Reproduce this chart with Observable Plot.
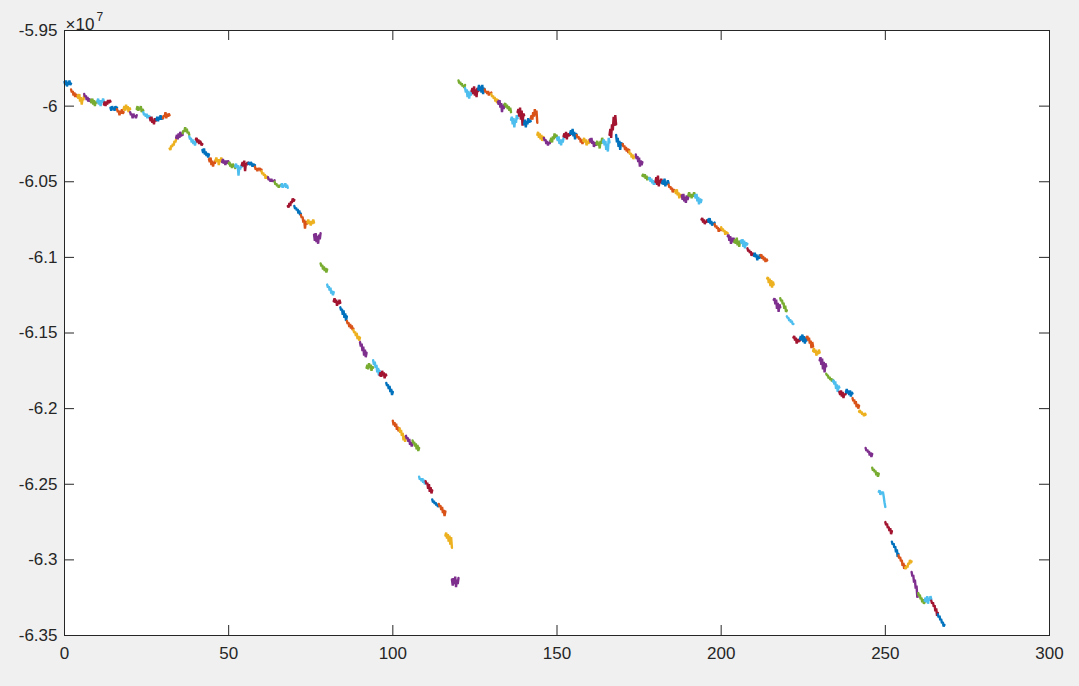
<!DOCTYPE html>
<html>
<head>
<meta charset="utf-8">
<script src="https://cdn.jsdelivr.net/npm/d3@7"></script>
<script src="https://cdn.jsdelivr.net/npm/@observablehq/plot@0.6"></script>
<style>
  html, body { margin: 0; padding: 0; background: #f0f0f0; }
</style>
</head>
<body>
<div id="chart"></div>
<script>
// Values in units of 1e7. Each inner array is one short trace (2 x-units long, 9 samples).
const branch1 = [
  [-5.984,-5.986,-5.983,-5.987,-5.984,-5.986,-5.983,-5.986,-5.985],
  [-5.989,-5.991,-5.990,-5.993,-5.991,-5.994,-5.992,-5.993,-5.994],
  [-5.993,-5.995,-5.992,-5.997,-5.994,-5.999,-5.995,-5.996,-5.993],
  [-5.992,-5.994,-5.993,-5.996,-5.994,-5.997,-5.995,-5.996,-5.997],
  [-5.996,-5.998,-5.995,-5.999,-5.996,-6.000,-5.997,-5.998,-5.997],
  [-5.997,-5.995,-5.999,-5.996,-6.000,-5.996,-5.998,-5.995,-5.997],
  [-5.999,-5.997,-6.000,-5.997,-5.999,-5.996,-5.998,-5.996,-5.997],
  [-6.001,-6.003,-6.000,-6.002,-6.001,-6.003,-6.000,-6.002,-6.001],
  [-6.002,-6.004,-6.003,-6.006,-6.003,-6.005,-6.002,-6.005,-6.004],
  [-6.002,-6.000,-6.003,-5.999,-6.002,-6.000,-6.004,-6.001,-6.002],
  [-6.004,-6.006,-6.005,-6.008,-6.005,-6.007,-6.006,-6.008,-6.006],
  [-6.002,-6.000,-6.003,-6.001,-6.002,-6.000,-6.004,-6.002,-6.003],
  [-6.004,-6.006,-6.005,-6.007,-6.005,-6.008,-6.006,-6.007,-6.007],
  [-6.008,-6.010,-6.007,-6.011,-6.009,-6.012,-6.008,-6.010,-6.009],
  [-6.009,-6.007,-6.010,-6.007,-6.009,-6.006,-6.009,-6.007,-6.008],
  [-6.008,-6.006,-6.007,-6.004,-6.008,-6.005,-6.007,-6.005,-6.006],
  [-6.028,-6.029,-6.026,-6.027,-6.025,-6.026,-6.023,-6.024,-6.022],
  [-6.021,-6.019,-6.022,-6.018,-6.021,-6.017,-6.020,-6.018,-6.019],
  [-6.018,-6.016,-6.017,-6.014,-6.017,-6.015,-6.018,-6.017,-6.019],
  [-6.020,-6.022,-6.021,-6.024,-6.022,-6.025,-6.023,-6.026,-6.023],
  [-6.022,-6.021,-6.024,-6.022,-6.025,-6.023,-6.024,-6.026,-6.025],
  [-6.029,-6.031,-6.028,-6.032,-6.030,-6.033,-6.031,-6.034,-6.032],
  [-6.035,-6.037,-6.034,-6.039,-6.036,-6.040,-6.037,-6.038,-6.036],
  [-6.036,-6.034,-6.037,-6.035,-6.039,-6.035,-6.037,-6.034,-6.036],
  [-6.037,-6.035,-6.038,-6.036,-6.039,-6.036,-6.038,-6.036,-6.037],
  [-6.038,-6.037,-6.040,-6.038,-6.041,-6.038,-6.040,-6.039,-6.041],
  [-6.040,-6.038,-6.041,-6.039,-6.046,-6.040,-6.042,-6.039,-6.040],
  [-6.039,-6.037,-6.040,-6.036,-6.043,-6.038,-6.039,-6.037,-6.038],
  [-6.038,-6.037,-6.039,-6.037,-6.038,-6.040,-6.038,-6.040,-6.039],
  [-6.040,-6.042,-6.041,-6.043,-6.041,-6.042,-6.041,-6.043,-6.042],
  [-6.043,-6.045,-6.044,-6.046,-6.045,-6.048,-6.046,-6.047,-6.048],
  [-6.047,-6.049,-6.048,-6.050,-6.048,-6.050,-6.049,-6.050,-6.049],
  [-6.050,-6.052,-6.051,-6.053,-6.052,-6.054,-6.052,-6.053,-6.052],
  [-6.053,-6.051,-6.054,-6.052,-6.053,-6.051,-6.054,-6.052,-6.054],
  [-6.066,-6.067,-6.064,-6.066,-6.063,-6.064,-6.061,-6.063,-6.062],
  [-6.066,-6.068,-6.067,-6.069,-6.068,-6.071,-6.069,-6.072,-6.071],
  [-6.072,-6.074,-6.073,-6.077,-6.075,-6.081,-6.076,-6.078,-6.077],
  [-6.077,-6.075,-6.078,-6.076,-6.079,-6.076,-6.078,-6.075,-6.077],
  [-6.085,-6.089,-6.084,-6.090,-6.086,-6.091,-6.085,-6.088,-6.084],
  [-6.104,-6.106,-6.105,-6.108,-6.106,-6.109,-6.107,-6.110,-6.108],
  [-6.118,-6.120,-6.119,-6.122,-6.120,-6.124,-6.122,-6.125,-6.123],
  [-6.129,-6.127,-6.130,-6.128,-6.132,-6.129,-6.131,-6.128,-6.130],
  [-6.133,-6.135,-6.134,-6.138,-6.135,-6.140,-6.137,-6.142,-6.139],
  [-6.142,-6.144,-6.143,-6.146,-6.144,-6.147,-6.145,-6.148,-6.147],
  [-6.148,-6.150,-6.149,-6.152,-6.150,-6.154,-6.152,-6.155,-6.153],
  [-6.156,-6.159,-6.157,-6.162,-6.159,-6.165,-6.161,-6.166,-6.163],
  [-6.173,-6.171,-6.174,-6.170,-6.173,-6.171,-6.175,-6.172,-6.173],
  [-6.168,-6.171,-6.169,-6.173,-6.171,-6.176,-6.173,-6.178,-6.175],
  [-6.178,-6.176,-6.179,-6.175,-6.178,-6.176,-6.180,-6.177,-6.178],
  [-6.183,-6.185,-6.184,-6.187,-6.185,-6.189,-6.187,-6.191,-6.189],
  [-6.208,-6.211,-6.209,-6.212,-6.210,-6.214,-6.212,-6.215,-6.213],
  [-6.213,-6.216,-6.214,-6.218,-6.216,-6.221,-6.218,-6.222,-6.219],
  [-6.218,-6.220,-6.219,-6.222,-6.220,-6.224,-6.222,-6.225,-6.223],
  [-6.221,-6.223,-6.222,-6.225,-6.223,-6.227,-6.224,-6.228,-6.226],
  [-6.245,-6.247,-6.246,-6.248,-6.246,-6.249,-6.247,-6.250,-6.249],
  [-6.248,-6.250,-6.249,-6.253,-6.250,-6.255,-6.252,-6.256,-6.254],
  [-6.260,-6.262,-6.261,-6.263,-6.262,-6.264,-6.263,-6.265,-6.264],
  [-6.263,-6.265,-6.264,-6.267,-6.265,-6.269,-6.267,-6.271,-6.268],
  [-6.284,-6.282,-6.286,-6.283,-6.288,-6.284,-6.290,-6.285,-6.292],
  [-6.313,-6.317,-6.312,-6.316,-6.311,-6.318,-6.313,-6.316,-6.312]
];
const branch2 = [
  [-5.983,-5.985,-5.984,-5.986,-5.985,-5.987,-5.986,-5.988,-5.986],
  [-5.988,-5.991,-5.989,-5.994,-5.990,-5.995,-5.991,-5.993,-5.990],
  [-5.990,-5.988,-5.992,-5.987,-5.993,-5.989,-5.994,-5.988,-5.990],
  [-5.989,-5.986,-5.990,-5.987,-5.991,-5.986,-5.992,-5.988,-5.989],
  [-5.989,-5.991,-5.990,-5.992,-5.990,-5.993,-5.991,-5.992,-5.991],
  [-5.992,-5.994,-5.993,-5.995,-5.994,-5.997,-5.995,-5.998,-5.996],
  [-5.997,-5.999,-5.996,-6.001,-5.998,-6.004,-5.999,-6.002,-5.999],
  [-5.999,-5.998,-6.001,-5.999,-6.002,-6.000,-6.003,-6.001,-6.004],
  [-6.009,-6.007,-6.012,-6.008,-6.014,-6.009,-6.011,-6.006,-6.008],
  [-6.004,-6.002,-6.007,-6.001,-6.009,-6.003,-6.013,-6.005,-6.006],
  [-6.012,-6.009,-6.014,-6.010,-6.012,-6.008,-6.011,-6.009,-6.010],
  [-6.008,-6.006,-6.009,-6.004,-6.007,-6.002,-6.006,-6.003,-6.011],
  [-6.019,-6.017,-6.021,-6.018,-6.022,-6.019,-6.023,-6.020,-6.021],
  [-6.021,-6.023,-6.022,-6.025,-6.023,-6.026,-6.024,-6.025,-6.023],
  [-6.023,-6.021,-6.024,-6.020,-6.022,-6.018,-6.021,-6.019,-6.020],
  [-6.021,-6.023,-6.020,-6.025,-6.022,-6.026,-6.022,-6.024,-6.021],
  [-6.020,-6.018,-6.021,-6.017,-6.022,-6.018,-6.020,-6.018,-6.019],
  [-6.018,-6.016,-6.019,-6.015,-6.020,-6.017,-6.022,-6.018,-6.019],
  [-6.019,-6.021,-6.020,-6.022,-6.021,-6.024,-6.022,-6.025,-6.023],
  [-6.023,-6.021,-6.024,-6.022,-6.026,-6.023,-6.025,-6.022,-6.024],
  [-6.022,-6.024,-6.021,-6.025,-6.023,-6.027,-6.024,-6.026,-6.025],
  [-6.025,-6.023,-6.026,-6.024,-6.028,-6.023,-6.025,-6.021,-6.023],
  [-6.024,-6.022,-6.026,-6.023,-6.029,-6.025,-6.030,-6.021,-6.024],
  [-6.019,-6.015,-6.021,-6.012,-6.016,-6.007,-6.013,-6.006,-6.012],
  [-6.019,-6.024,-6.021,-6.027,-6.023,-6.029,-6.024,-6.026,-6.025],
  [-6.025,-6.027,-6.026,-6.029,-6.027,-6.030,-6.028,-6.031,-6.029],
  [-6.030,-6.032,-6.031,-6.034,-6.032,-6.035,-6.033,-6.034,-6.033],
  [-6.032,-6.035,-6.033,-6.037,-6.034,-6.040,-6.036,-6.039,-6.037],
  [-6.046,-6.045,-6.047,-6.045,-6.048,-6.046,-6.049,-6.047,-6.048],
  [-6.048,-6.047,-6.050,-6.048,-6.051,-6.049,-6.052,-6.050,-6.051],
  [-6.050,-6.047,-6.052,-6.046,-6.053,-6.049,-6.051,-6.048,-6.050],
  [-6.051,-6.049,-6.052,-6.048,-6.053,-6.050,-6.052,-6.049,-6.051],
  [-6.052,-6.054,-6.053,-6.055,-6.054,-6.057,-6.055,-6.056,-6.056],
  [-6.056,-6.058,-6.055,-6.059,-6.057,-6.061,-6.058,-6.060,-6.059],
  [-6.059,-6.062,-6.058,-6.063,-6.060,-6.064,-6.059,-6.062,-6.060],
  [-6.059,-6.057,-6.060,-6.058,-6.061,-6.058,-6.060,-6.057,-6.059],
  [-6.059,-6.061,-6.058,-6.063,-6.060,-6.065,-6.061,-6.064,-6.062],
  [-6.075,-6.074,-6.077,-6.075,-6.078,-6.076,-6.077,-6.075,-6.076],
  [-6.075,-6.077,-6.074,-6.078,-6.076,-6.079,-6.077,-6.078,-6.077],
  [-6.078,-6.080,-6.079,-6.081,-6.080,-6.083,-6.081,-6.082,-6.082],
  [-6.080,-6.082,-6.081,-6.083,-6.082,-6.085,-6.083,-6.084,-6.084],
  [-6.086,-6.085,-6.089,-6.086,-6.091,-6.087,-6.090,-6.087,-6.089],
  [-6.090,-6.088,-6.091,-6.087,-6.092,-6.089,-6.093,-6.089,-6.090],
  [-6.089,-6.091,-6.088,-6.093,-6.089,-6.094,-6.090,-6.092,-6.091],
  [-6.094,-6.096,-6.095,-6.097,-6.096,-6.099,-6.097,-6.098,-6.098],
  [-6.099,-6.097,-6.100,-6.098,-6.102,-6.099,-6.101,-6.098,-6.100],
  [-6.099,-6.098,-6.101,-6.099,-6.102,-6.100,-6.103,-6.101,-6.102],
  [-6.114,-6.113,-6.117,-6.114,-6.119,-6.115,-6.120,-6.116,-6.118],
  [-6.128,-6.127,-6.131,-6.128,-6.134,-6.130,-6.136,-6.131,-6.133],
  [-6.127,-6.129,-6.128,-6.131,-6.130,-6.134,-6.132,-6.136,-6.135],
  [-6.139,-6.140,-6.140,-6.142,-6.141,-6.143,-6.142,-6.144,-6.144],
  [-6.153,-6.152,-6.155,-6.153,-6.157,-6.154,-6.156,-6.154,-6.155],
  [-6.154,-6.152,-6.155,-6.151,-6.156,-6.152,-6.157,-6.153,-6.155],
  [-6.153,-6.152,-6.155,-6.153,-6.157,-6.155,-6.160,-6.156,-6.159],
  [-6.162,-6.160,-6.163,-6.161,-6.165,-6.162,-6.164,-6.161,-6.163],
  [-6.168,-6.166,-6.171,-6.167,-6.174,-6.169,-6.176,-6.170,-6.172],
  [-6.177,-6.178,-6.178,-6.180,-6.179,-6.181,-6.180,-6.182,-6.181],
  [-6.182,-6.181,-6.184,-6.182,-6.187,-6.184,-6.189,-6.185,-6.186],
  [-6.189,-6.191,-6.188,-6.192,-6.189,-6.193,-6.190,-6.191,-6.190],
  [-6.189,-6.187,-6.190,-6.188,-6.191,-6.188,-6.192,-6.189,-6.190],
  [-6.193,-6.195,-6.194,-6.197,-6.195,-6.199,-6.197,-6.200,-6.198],
  [-6.202,-6.201,-6.203,-6.202,-6.204,-6.203,-6.205,-6.203,-6.204],
  [-6.226,-6.228,-6.227,-6.229,-6.228,-6.231,-6.229,-6.232,-6.230],
  [-6.239,-6.241,-6.240,-6.242,-6.241,-6.244,-6.242,-6.245,-6.243],
  [-6.255,-6.254,-6.257,-6.255,-6.256,-6.255,-6.258,-6.262,-6.265],
  [-6.275,-6.277,-6.276,-6.279,-6.278,-6.281,-6.279,-6.283,-6.281],
  [-6.288,-6.290,-6.289,-6.292,-6.291,-6.295,-6.293,-6.298,-6.296],
  [-6.297,-6.299,-6.298,-6.301,-6.300,-6.304,-6.302,-6.306,-6.304],
  [-6.305,-6.306,-6.304,-6.305,-6.302,-6.303,-6.300,-6.302,-6.301],
  [-6.308,-6.311,-6.310,-6.315,-6.313,-6.319,-6.317,-6.325,-6.322],
  [-6.322,-6.324,-6.323,-6.326,-6.325,-6.328,-6.326,-6.329,-6.328],
  [-6.327,-6.325,-6.328,-6.324,-6.329,-6.325,-6.327,-6.324,-6.326],
  [-6.327,-6.329,-6.328,-6.331,-6.330,-6.334,-6.332,-6.337,-6.335],
  [-6.336,-6.338,-6.337,-6.340,-6.339,-6.342,-6.341,-6.344,-6.343]
];
const segmentLength = 2;        // x-units covered by each trace
const xTicks = [0, 50, 100, 150, 200, 250, 300];
const yTicks = [-6.35, -6.3, -6.25, -6.2, -6.15, -6.1, -6.05, -6, -5.95];
const colorOrder = ["#0072BD", "#D95319", "#EDB120", "#7E2F8E", "#77AC30", "#4DBEEE", "#A2142F"];

const segments = branch1.concat(branch2);
const points = [];
segments.forEach((ys, i) => {
  const n = ys.length - 1;
  ys.forEach((y, k) => points.push({seg: i, cls: i % colorOrder.length, x: i * segmentLength + (k / n) * segmentLength, y}));
});

const ink = "#262626";
const font = "'Liberation Sans', Arial, Helvetica, sans-serif";

const chart = Plot.plot({
  width: 1079,
  height: 686,
  marginLeft: 64,
  marginRight: 30,
  marginTop: 30,
  marginBottom: 51,
  style: {background: "#f0f0f0", fontFamily: font, fontSize: "17px", color: ink, overflow: "visible"},
  x: {domain: [0, 300], label: null},
  y: {domain: [-6.35, -5.95], label: null},
  color: {type: "ordinal", domain: d3.range(colorOrder.length), range: colorOrder},
  marks: [
    Plot.frame({fill: "white"}),
    Plot.line(points, {x: "x", y: "y", z: "seg", stroke: "cls", strokeWidth: 2.4, strokeLinejoin: "miter"}),
    Plot.ruleX(xTicks, {x: d => d, insetTop: 595, stroke: ink}),
    Plot.ruleX(xTicks, {x: d => d, insetBottom: 595, stroke: ink}),
    Plot.ruleY(yTicks, {y: d => d, insetRight: 975, stroke: ink}),
    Plot.ruleY(yTicks, {y: d => d, insetLeft: 975, stroke: ink}),
    Plot.frame({stroke: ink}),
    Plot.axisX(xTicks, {tickSize: 0, tickPadding: 11, tickFormat: d => String(d), fill: ink, fontSize: 17}),
    Plot.axisY(yTicks, {tickSize: 0, tickPadding: 7, tickFormat: d => String(+d.toFixed(2)).replace("\u2212", "-"), fill: ink, fontSize: 17}),
    Plot.text(["\u00d710"], {frameAnchor: "top-left", text: d => d, textAnchor: "start", lineAnchor: "bottom", dx: 1, dy: -1, fill: ink, fontSize: 17}),
    Plot.text(["7"], {frameAnchor: "top-left", text: d => d, textAnchor: "start", lineAnchor: "bottom", dx: 32, dy: -10, fill: ink, fontSize: 12})
  ]
});
document.getElementById("chart").appendChild(chart);
</script>
</body>
</html>
